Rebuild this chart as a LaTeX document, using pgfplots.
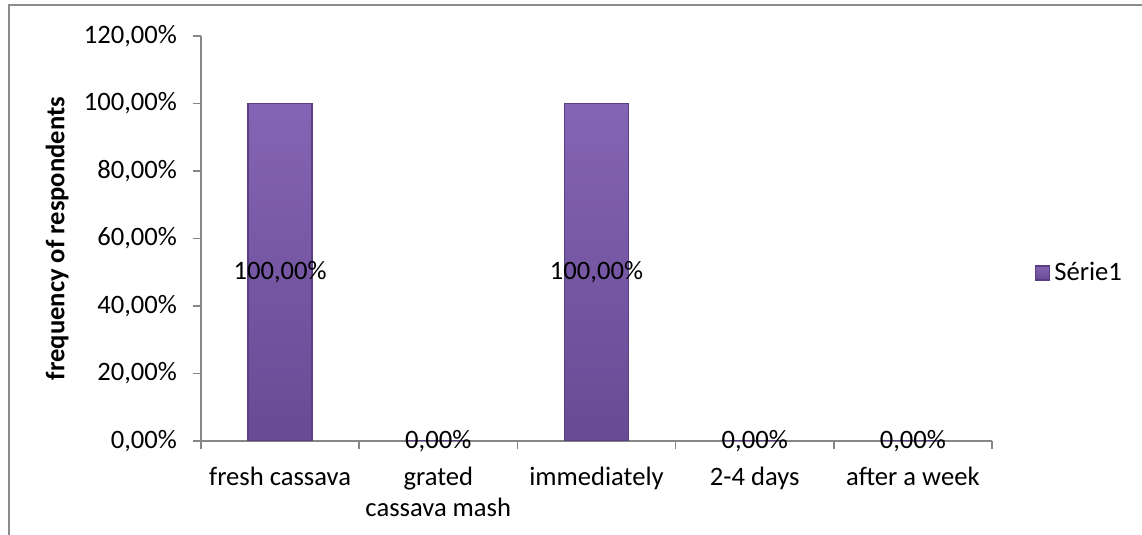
\documentclass[border=0pt]{standalone}
\usepackage{fontspec}
\setmainfont{Carlito}
\usepackage{pgfplots}
\pgfplotsset{compat=1.18}

\definecolor{bartop}{HTML}{8464B4}
\definecolor{barbot}{HTML}{684A94}
\definecolor{baredge}{HTML}{5A3F82}
\definecolor{axisgray}{HTML}{868686}
\definecolor{framegray}{HTML}{8C8C8C}

\begin{document}
\begin{tikzpicture}[font=\fontsize{13.3}{16}\selectfont]
    \begin{axis}[
        at={(0,0)}, anchor=south west,
        scale only axis,
        width=395.5pt,
        height=202.5pt,
        xmin=-0.5, xmax=4.5,
        ymin=0, ymax=120,
        axis x line=bottom,
        axis y line=left,
        axis line style={axisgray, line width=0.8pt, -},
        tick style={axisgray, line width=0.8pt},
        tick align=outside,
        major tick length=4pt,
        /pgf/number format/assume math mode=true,
        ybar,
        bar width=32pt,
        xtick={-0.5,0.5,1.5,2.5,3.5,4.5},
        xticklabels={},
        extra x ticks={0,1,2,3,4},
        extra x tick labels={fresh cassava, {grated\\cassava mash}, immediately, 2-4 days, after a week},
        extra x tick style={major tick length=0pt, tick style={draw=none}},
        x tick label style={align=center, yshift=-9.5pt, font=\fontsize{13.3}{15.5}\selectfont},
        ytick={0,20,40,60,80,100,120},
        yticklabels={{0,00\%},{20,00\%},{40,00\%},{60,00\%},{80,00\%},{100,00\%},{120,00\%}},
        y tick label style={xshift=-4.5pt},
        ylabel={\bfseries frequency of respondents},
        y label style={at={(axis description cs:-0.182,0.5)}, anchor=center},
        nodes near coords={\pgfmathprintnumber[fixed,fixed zerofill,precision=2,use comma]{\pgfplotspointmeta}\%},
        nodes near coords align={center},
        visualization depends on={rawy \as \rawy},
        every node near coord/.append style={anchor=center, text=black, yshift={-0.84375pt*\rawy}},
        legend style={at={(1.054,0.415)}, anchor=west, draw=none, fill=none, inner sep=0pt},
        legend image code/.code={\fill[#1] (0pt,-3.5pt) rectangle (7pt,3.5pt);},
    ]
        \coordinate (O) at (rel axis cs:0,0);
        \addplot[top color=bartop, bottom color=barbot, draw=baredge, line width=0.6pt] coordinates {
            (0,100)
            (1,0)
            (2,100)
            (3,0)
            (4,0)
        };
        \legend{Série1}
    \end{axis}
    \draw[framegray, line width=0.8pt] ([shift={(-96pt,-60pt)}]O) -- ([shift={(-96pt,218pt)}]O) -- ([shift={(490pt,218pt)}]O);
    \pgfresetboundingbox
    \useasboundingbox ([shift={(-100.5pt,-47pt)}]O) rectangle ([shift={(470.5pt,220.5pt)}]O);
\end{tikzpicture}
\end{document}
